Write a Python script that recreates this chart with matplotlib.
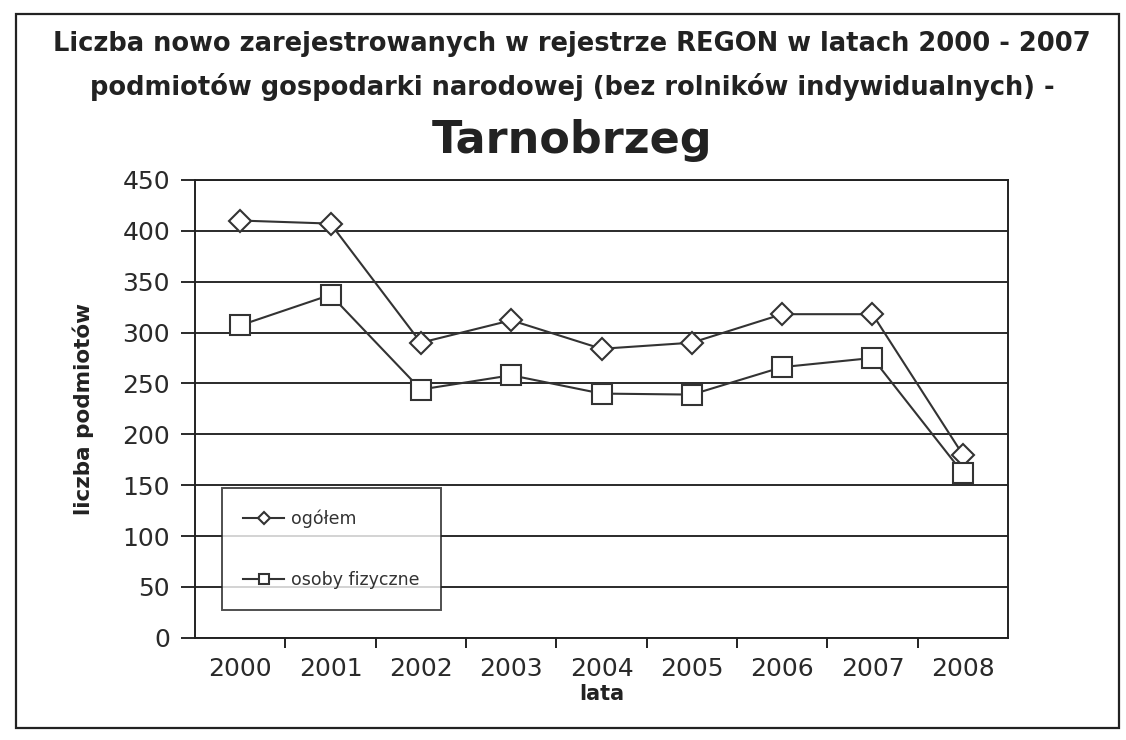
import numpy as np
import matplotlib
matplotlib.use("Agg")
import matplotlib.pyplot as plt
from matplotlib.patches import Rectangle

plt.rcParams['font.family'] = ['DejaVu Sans']

lata = ['2000', '2001', '2002', '2003', '2004', '2005', '2006', '2007', '2008']
ogolem = [410, 407, 290, 312, 284, 290, 318, 318, 180]
osoby_fizyczne = [307, 337, 244, 258, 240, 239, 266, 275, 162]

fig = plt.figure(figsize=(11.26, 7.40), dpi=100)
ax = fig.add_axes([0.1732, 0.138, 0.722, 0.619])

x = np.arange(len(lata))
ax.plot(x, ogolem, color='#333333', lw=1.5, marker='D', ms=11, mfc='white',
        mec='#333333', mew=1.5, label='ogółem', zorder=3)
ax.plot(x, osoby_fizyczne, color='#333333', lw=1.5, marker='s', ms=14, mfc='white',
        mec='#333333', mew=1.5, label='osoby fizyczne', zorder=3)

ax.set_xlim(-0.5, len(lata) - 0.5)
ax.set_ylim(0, 450)
ax.set_yticks(np.arange(0, 451, 50))
ax.yaxis.grid(True, color='#2a2a2a', lw=1.4)
ax.set_axisbelow(True)
ax.set_xticks(x)
ax.set_xticklabels(lata)
ax.set_xticks(np.arange(0.5, len(lata) - 0.5, 1), minor=True)
ax.tick_params(axis='x', which='major', length=0, pad=14, labelsize=18, colors='#2a2a2a')
ax.tick_params(axis='x', which='minor', length=7, width=1.4, direction='out', color='#222222')
ax.tick_params(axis='y', length=10, width=1.4, pad=8, labelsize=18, colors='#2a2a2a')
for side in ['left', 'bottom', 'right', 'top']:
    ax.spines[side].set_color('#222222')
    ax.spines[side].set_linewidth(1.4)

ax.set_xlabel('lata', fontsize=15, fontweight='bold', labelpad=2, color='#222222')
ax.set_ylabel('liczba podmiotów', fontsize=15.5, fontweight='bold', labelpad=20, color='#222222')

leg = ax.legend(loc='lower left', bbox_to_anchor=(0.033, 0.061), frameon=True,
                fancybox=False, edgecolor='#222222', fontsize=12.5, labelspacing=2.5,
                handlelength=2.4, handletextpad=0.4, borderpad=1.2, borderaxespad=0,
                markerscale=0.55)
leg.get_frame().set_linewidth(1.4)
for t in leg.get_texts():
    t.set_color('#333333')

fig.text(0.508, 0.94, 'Liczba nowo zarejestrowanych w rejestrze REGON w latach 2000 - 2007',
         ha='center', va='center', fontsize=18.5, fontweight='bold', color='#222222')
fig.text(0.508, 0.882, 'podmiotów gospodarki narodowej (bez rolników indywidualnych) -',
         ha='center', va='center', fontsize=18.5, fontweight='bold', color='#222222')
fig.text(0.508, 0.81, 'Tarnobrzeg', ha='center', va='center', fontsize=32,
         fontweight='bold', color='#222222')

fig.patches.append(Rectangle((0.014, 0.016), 0.98, 0.965, transform=fig.transFigure,
                             fill=False, edgecolor='#222222', lw=1.6))

fig.savefig('out.png', dpi=100)
